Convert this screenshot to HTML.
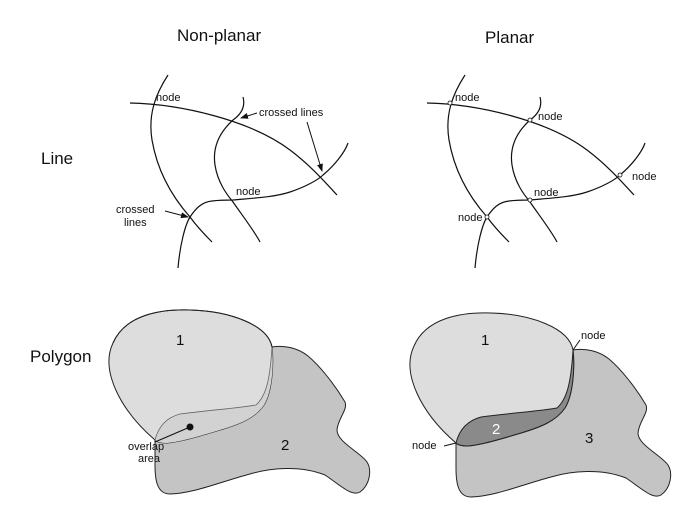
<!DOCTYPE html>
<html><head><meta charset="utf-8"><style>
html,body{margin:0;padding:0;background:#fff;}
svg{display:block;}
text{font-family:"Liberation Sans",sans-serif;fill:#111;}
</style></head><body>
<svg width="682" height="515" viewBox="0 0 682 515" xmlns="http://www.w3.org/2000/svg">
<defs>
<marker id="ah" markerWidth="8" markerHeight="6" refX="7" refY="3" orient="auto" markerUnits="userSpaceOnUse">
<path d="M0,0 L8,3 L0,6 Z" fill="#111"/></marker>
<clipPath id="c1"><path d="M272,347 C274,365 272,392 264,405 C255,418 240,424 220,430 C200,436 180,442 167,443 Q158,443 155,440 C120,410 100,370 113,343 C125,315 160,309 190,310 C230,311 268,325 272,347 Z"/></clipPath>
<g id="lines" fill="none" stroke="#111" stroke-width="1.2">
<path d="M130,103 C180,104 250,120 290,150 C310,165 325,182 337,195"/>
<path d="M168,75 C155,95 148,115 152,140 C158,175 175,200 190,217 C198,228 205,235 212,242"/>
<path d="M243,97 C246,108 240,115 233,120 C222,130 212,145 215,165 C218,185 230,198 233,202 C242,215 255,232 260,242"/>
<path d="M178,268 C180,245 185,225 190,217 C196,208 202,202 212,201 C220,200 228,200 233,200 C255,198 275,197 290,192 C305,187 318,180 323,175 C335,165 345,152 348,143"/>
</g>
<g id="p2"><path d="M272,347 C285,345 298,348 308,356 C320,366 335,385 345,402 C348,410 338,418 337,430 C337,442 360,452 367,462 C372,470 370,485 360,492 C352,497 340,485 325,475 C300,465 270,468 250,474 C220,482 195,493 170,494 C157,494 155,480 155,465 L155,440 C158,428 165,418 180,414 C210,410 240,408 256,405 C266,396 270,380 272,347 Z"/></g>
<g id="p1"><path d="M272,347 C274,365 272,392 264,405 C255,418 240,424 220,430 C200,436 180,442 167,443 Q158,443 155,440 C120,410 100,370 113,343 C125,315 160,309 190,310 C230,311 268,325 272,347 Z"/></g>
</defs>

<text x="177" y="41" font-size="17">Non-planar</text>
<text x="485" y="43" font-size="17">Planar</text>
<text x="41" y="164" font-size="17">Line</text>
<text x="30" y="362" font-size="17">Polygon</text>

<use href="#lines"/>
<g font-size="11">
<text x="156" y="101">node</text>
<text x="236" y="195">node</text>
<text x="259" y="116">crossed lines</text>
<text x="116" y="213">crossed</text>
<text x="124" y="226">lines</text>
</g>
<g stroke="#111" stroke-width="1" fill="none">
<line x1="257" y1="113" x2="241" y2="118" marker-end="url(#ah)"/>
<line x1="307" y1="122" x2="322" y2="171" marker-end="url(#ah)"/>
<line x1="165" y1="211" x2="188" y2="217" marker-end="url(#ah)"/>
</g>

<g transform="translate(297,0)"><use href="#lines"/>
<g fill="#fff" stroke="#111" stroke-width="0.8">
<circle cx="153" cy="103" r="2"/><circle cx="233" cy="120" r="2"/><circle cx="323" cy="175" r="2"/>
<circle cx="233" cy="200" r="2"/><circle cx="190" cy="217" r="2"/></g></g>
<g font-size="11">
<text x="455" y="101">node</text>
<text x="538" y="120">node</text>
<text x="632" y="180">node</text>
<text x="534" y="196">node</text>
<text x="458" y="221">node</text>
</g>

<use href="#p2" fill="#c4c4c4" stroke="#222" stroke-width="1"/>
<use href="#p1" fill="#dddddd" stroke="#222" stroke-width="1"/>
<use href="#p2" fill="#d2d2d2" stroke="#666" stroke-width="0.8" clip-path="url(#c1)"/>
<path d="M113,343 C125,315 160,309 190,310 C230,311 268,325 272,347" fill="none" stroke="#222"/>
<circle cx="190" cy="427" r="3.5" fill="#111"/>
<line x1="190" y1="427" x2="155" y2="442" stroke="#111" stroke-width="1"/>
<text x="176" y="345" font-size="15">1</text>
<text x="281" y="450" font-size="15">2</text>
<text x="128" y="450" font-size="11">overlap</text>
<text x="138" y="462" font-size="11">area</text>

<g transform="translate(301,3)">
<use href="#p2" fill="#c4c4c4" stroke="#222" stroke-width="1"/>
<use href="#p1" fill="#dddddd" stroke="#222" stroke-width="1"/>
<use href="#p2" fill="#8a8a8a" stroke="#222" stroke-width="1" clip-path="url(#c1)"/>
<path d="M272,347 C274,365 272,392 264,405 C255,418 240,424 220,430 C200,436 180,442 167,443 Q158,443 155,440" fill="none" stroke="#222"/>
<line x1="272" y1="347" x2="279" y2="337" stroke="#111"/>
<line x1="155" y1="440" x2="143" y2="443" stroke="#111"/>
</g>
<text x="581" y="339" font-size="11">node</text>
<text x="412" y="449" font-size="11">node</text>
<text x="481" y="345" font-size="15">1</text>
<text x="492" y="434" font-size="15" style="fill:#fff">2</text>
<text x="585" y="443" font-size="15">3</text>
</svg>
</body></html>
